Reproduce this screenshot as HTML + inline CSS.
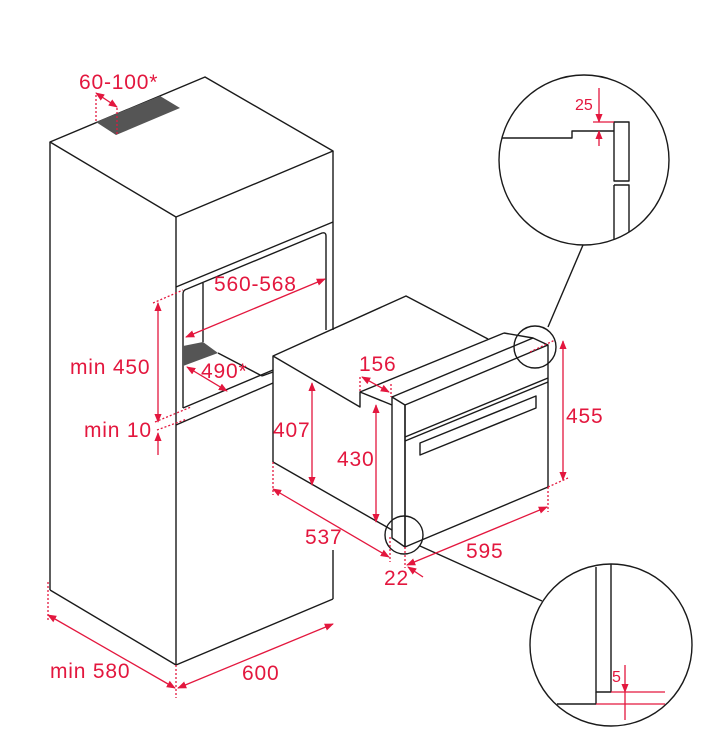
<!DOCTYPE html>
<html><head><meta charset="utf-8"><style>
html,body{margin:0;padding:0;background:#fff;}
svg{display:block;}
text{font-family:"Liberation Sans",sans-serif;font-size:21px;letter-spacing:0.8px;fill:#e3173e;}
</style></head><body>
<svg width="717" height="754" viewBox="0 0 717 754" xmlns="http://www.w3.org/2000/svg">
<defs>
<marker id="a" viewBox="0 0 10 10" refX="9" refY="5" markerWidth="7" markerHeight="7" orient="auto-start-reverse"><path d="M0,1 L10,5 L0,9 z" fill="#e3173e"/></marker>
</defs>
<g fill="none" stroke="#1a1a1a" stroke-width="1.4" stroke-linejoin="round">
<polygon points="50,142 205,77 333,151 176,217"/>
<line x1="50" y1="142" x2="50" y2="590"/>
<line x1="50" y1="590" x2="176" y2="665"/>
<line x1="176" y1="665" x2="333" y2="599"/>
<line x1="333" y1="550" x2="333" y2="599"/>
<line x1="176" y1="217" x2="176" y2="665"/>
<line x1="333" y1="151" x2="333" y2="330"/>
<line x1="176" y1="287" x2="333" y2="222"/>
<path d="M183,408 L183,294 Q183,290 187,289 L322,233 Q326,232 326,236 L326,330"/>
<line x1="183" y1="408" x2="273" y2="370"/>
<line x1="203" y1="283" x2="203" y2="342"/>
<line x1="218" y1="353" x2="262" y2="376"/>
<line x1="176" y1="425" x2="273" y2="383"/>
<line x1="262" y1="376" x2="273" y2="372"/>
<polyline points="273,462 273,356 406,296 488,339"/>
<polyline points="273,356 360,407 360,392 392,405"/>
<line x1="273" y1="462" x2="392" y2="530"/>
<line x1="360" y1="392" x2="504" y2="333"/>
<polyline points="504,333 533,338 548,345"/>
<polygon points="392,397 405,405 405,547 392,538"/>
<line x1="392" y1="397" x2="533" y2="338"/>
<polygon points="405,405 548,345 548,487 405,547"/>
<line x1="405" y1="437" x2="548" y2="378"/>
<line x1="405" y1="441" x2="548" y2="382"/>
<polygon points="420,443 536,396 536,408 420,455"/>
<circle cx="535" cy="347" r="21"/>
<circle cx="404" cy="535" r="19"/>
<circle cx="584" cy="160" r="85"/>
<circle cx="611" cy="645" r="81"/>
<line x1="583" y1="245" x2="548" y2="327"/>
<line x1="420" y1="546" x2="542" y2="601"/>
<polyline points="502,138 572,138 572,131 614,131"/>
<rect x="614" y="122" width="15" height="59"/>
<polyline points="614,185 629,185 629,232"/>
<line x1="614" y1="185" x2="614" y2="239"/>
<polyline points="596,567 596,692 611,692 611,564"/>
<polyline points="557,704 596,704 596,692"/>
</g>
<polygon points="96,122 160,96 180,108 116,135" fill="#555"/>
<polygon points="183,346 203,342 218,353 183,366" fill="#555"/>
<g stroke="#e3173e" stroke-width="1.3" fill="none">
<g stroke-dasharray="2,2">
<line x1="96" y1="95" x2="96" y2="122"/><line x1="117" y1="108" x2="117" y2="135"/>
<line x1="153" y1="303" x2="183" y2="290"/>
<line x1="155" y1="422" x2="191" y2="407"/>
<line x1="157" y1="430" x2="187" y2="419"/>
<line x1="360" y1="377" x2="360" y2="392"/><line x1="391" y1="384" x2="391" y2="397"/>
<line x1="530" y1="352" x2="555" y2="340"/>
<line x1="548" y1="487" x2="568" y2="478"/>
<line x1="273" y1="462" x2="273" y2="495"/><line x1="390" y1="537" x2="390" y2="562"/>
<line x1="548" y1="487" x2="548" y2="512"/><line x1="405" y1="547" x2="405" y2="568"/>
<line x1="48" y1="582" x2="48" y2="621"/><line x1="176" y1="665" x2="176" y2="698"/>
</g>
<line x1="96" y1="93" x2="117" y2="107" marker-start="url(#a)" marker-end="url(#a)"/>
<line x1="186" y1="337" x2="325" y2="279" marker-start="url(#a)" marker-end="url(#a)"/>
<line x1="158" y1="303" x2="158" y2="422" marker-start="url(#a)" marker-end="url(#a)"/>
<line x1="158" y1="455" x2="158" y2="433" marker-end="url(#a)"/>
<line x1="187" y1="367" x2="227" y2="391" marker-start="url(#a)" marker-end="url(#a)"/>
<line x1="312" y1="383" x2="312" y2="485" marker-start="url(#a)" marker-end="url(#a)"/>
<line x1="376" y1="405" x2="376" y2="522" marker-start="url(#a)" marker-end="url(#a)"/>
<line x1="362" y1="377" x2="389" y2="392" marker-start="url(#a)" marker-end="url(#a)"/>
<line x1="563" y1="341" x2="563" y2="480" marker-start="url(#a)" marker-end="url(#a)"/>
<line x1="273" y1="489" x2="389" y2="557" marker-start="url(#a)" marker-end="url(#a)"/>
<line x1="407" y1="565" x2="547" y2="507" marker-start="url(#a)" marker-end="url(#a)"/>
<line x1="423" y1="577" x2="408" y2="567" marker-end="url(#a)"/>
<line x1="48" y1="615" x2="175" y2="688" marker-start="url(#a)" marker-end="url(#a)"/>
<line x1="178" y1="688" x2="333" y2="624" marker-start="url(#a)" marker-end="url(#a)"/>
<line x1="593" y1="122" x2="614" y2="122"/>
<line x1="599" y1="88" x2="599" y2="122" marker-end="url(#a)"/>
<line x1="599" y1="146" x2="599" y2="131" marker-end="url(#a)"/>
<line x1="611" y1="692" x2="665" y2="692"/>
<line x1="596" y1="704" x2="665" y2="704"/>
<line x1="625" y1="665" x2="625" y2="692" marker-end="url(#a)"/>
<line x1="625" y1="692" x2="625" y2="720"/>
</g>
<text x="79" y="89">60-100*</text>
<text x="214" y="291">560-568</text>
<text x="70" y="374">min 450</text>
<text x="201" y="378">490*</text>
<text x="84" y="437">min 10</text>
<text x="273" y="437">407</text>
<text x="337" y="466">430</text>
<text x="359" y="371">156</text>
<text x="566" y="423">455</text>
<text x="305" y="544">537</text>
<text x="466" y="558">595</text>
<text x="384" y="585">22</text>
<text x="50" y="678">min 580</text>
<text x="242" y="680">600</text>
<text x="575" y="110" style="font-size:16px;letter-spacing:0">25</text>
<text x="612" y="682" style="font-size:16px;letter-spacing:0">5</text>
</svg>
</body></html>
